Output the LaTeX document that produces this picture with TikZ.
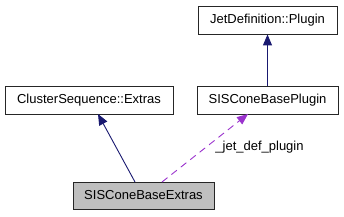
\documentclass[tikz,border=0pt]{standalone}
\usepackage{fontspec}
\setmainfont{Liberation Sans}
\usetikzlibrary{arrows.meta}
\definecolor{edgeblue}{HTML}{191970}
\definecolor{edgepurple}{HTML}{9A32CD}
\tikzset{
  cls/.style={draw=black!85, fill=white, line width=0.9pt, minimum height=28pt, inner sep=0pt, font=\fontsize{13}{15}\selectfont},
  inherit/.style={draw=edgeblue, line width=0.9pt, -{Triangle[length=11pt,width=9pt]}},
  usage/.style={draw=edgepurple, line width=0.9pt, dash pattern=on 7pt off 5pt, -{Triangle[length=11pt,width=9pt]}},
}
\begin{document}
\begin{tikzpicture}[x=1pt,y=-1pt]
\useasboundingbox (0,0) rectangle (344,216);
\node[cls, minimum width=139pt] (jd) at (267.5,20) {JetDefinition::Plugin};
\node[cls, minimum width=168pt] (cs) at (89,100) {ClusterSequence::Extras};
\node[cls, minimum width=141pt] (sp) at (267.5,100) {SISConeBasePlugin};
\node[cls, minimum width=141pt, minimum height=27pt, fill={rgb,255:red,191;green,191;blue,191}] (se) at (143.5,195.5) {SISConeBaseExtras};
\coordinate (a1) at (135,182);
\coordinate (a2) at (98,114);
\draw[inherit] (a1) -- (a2);
\draw[inherit] (sp.north) -- (jd.south);
\coordinate (b1) at (162,182);
\coordinate (b2) at (248,114);
\draw[usage] (b1) -- (b2);
\node[font=\fontsize{13}{15}\selectfont, inner sep=0pt] (lbl) at (259.5,147) {\_jet\_def\_plugin};
\end{tikzpicture}
\end{document}
